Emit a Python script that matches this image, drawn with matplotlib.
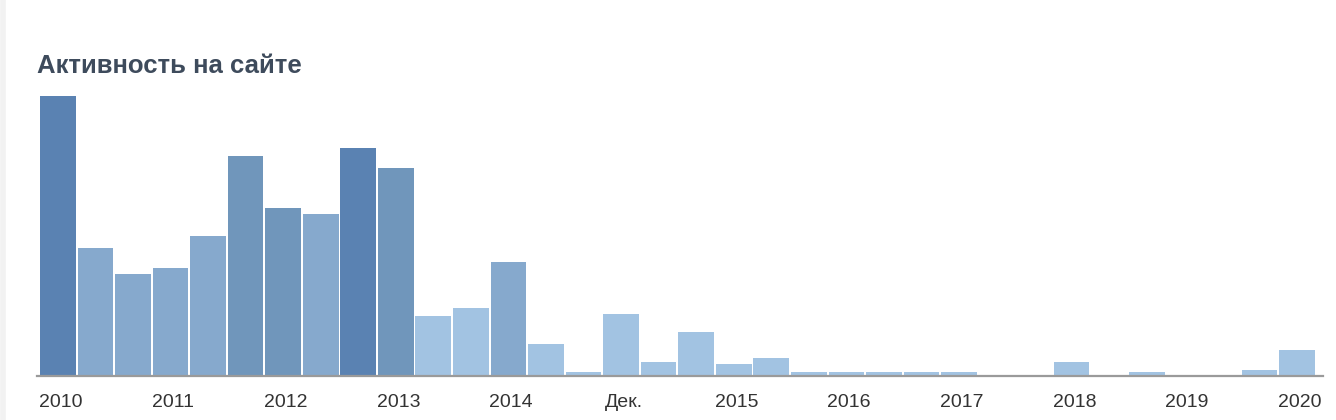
import numpy as np
import matplotlib.pyplot as plt
from matplotlib.lines import Line2D

# activity per period (34 periods)
activity = [140, 64, 51, 54, 70, 110, 84, 81, 114, 104,
            30, 34, 57, 16, 2, 31, 7, 22, 6, 9,
            2, 2, 2, 2, 2, 0, 0, 7, 0, 2,
            0, 0, 3, 13]
# shade level of each bar: 0 darkest .. 3 lightest
shade = [0, 2, 2, 2, 2, 1, 1, 2, 0, 1,
         3, 3, 2, 3, 3, 3, 3, 3, 3, 3,
         3, 3, 3, 3, 3, 3, 3, 3, 3, 3,
         3, 3, 3, 3]
tick_labels = ['2010', '2011', '2012', '2013', '2014', 'Дек.',
               '2015', '2016', '2017', '2018', '2019', '2020']
palette = ['#5a82b2', '#7096bb', '#86a9cd', '#a2c3e2']

plt.rcParams['font.family'] = ['Liberation Sans', 'DejaVu Sans']

fig = plt.figure(figsize=(13.36, 4.2), dpi=100)
ax = fig.add_axes([37/1336, 1 - 376/420, (1323 - 37)/1336, (376 - 96)/420])

x = np.arange(len(activity))
colors = [palette[s] for s in shade]
ax.bar(x, activity, width=0.95, align='edge', color=colors, linewidth=0)

ax.set_xlim(-0.08, 34.17)
ax.set_ylim(0, max(activity))

ax.set_xticks(x[::3] + 0.55)
ax.set_xticklabels(tick_labels)
ax.tick_params(axis='x', length=0, pad=13, labelsize=14, labelcolor='#333333')
ax.set_yticks([])

for side in ['top', 'right', 'left']:
    ax.spines[side].set_visible(False)
ax.spines['bottom'].set_color('#9a9a9a')
ax.spines['bottom'].set_linewidth(1.6)

fig.text(37/1336, 1 - 66/420, 'Активность на сайте', fontsize=18.5,
         fontweight='bold', color='#3e4b5c', va='center', ha='left')

# faint page border on the left
fig.add_artist(Line2D([3/1336, 3/1336], [0, 1], color='#f2f2f2', linewidth=4,
                      transform=fig.transFigure))

fig.savefig('out.png', dpi=100)
